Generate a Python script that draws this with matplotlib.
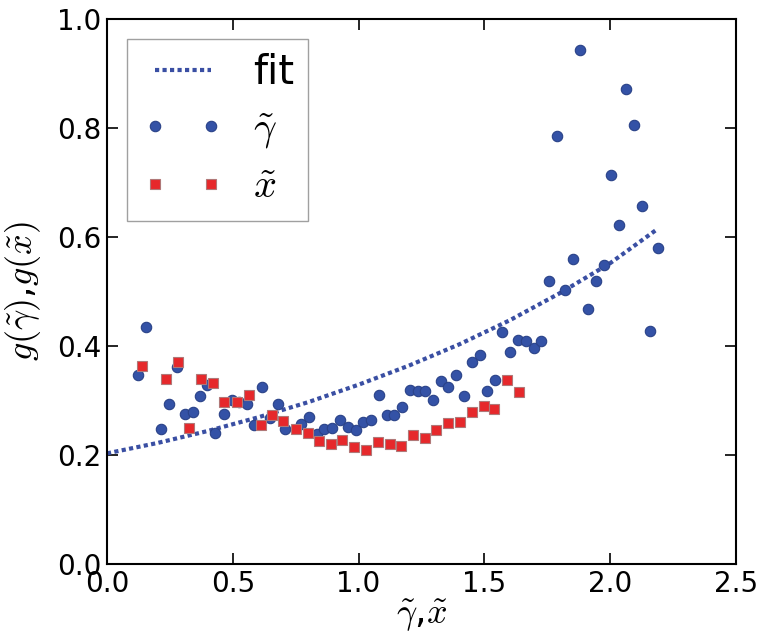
import matplotlib
matplotlib.use("Agg")
import matplotlib.pyplot as plt
from matplotlib.lines import Line2D
from matplotlib.legend_handler import HandlerLine2D

plt.rcParams['mathtext.fontset'] = 'cm'
plt.rcParams['font.family'] = 'DejaVu Sans'

fit_x = [0.0, 0.2, 0.4, 0.6, 0.8, 1.0, 1.2, 1.4, 1.6, 1.8, 2.0, 2.18]
fit_y = [0.203, 0.222, 0.244, 0.269, 0.297, 0.329, 0.364, 0.403, 0.447, 0.497, 0.552, 0.612]

gamma_x = [0.125, 0.155, 0.215, 0.246, 0.277, 0.310, 0.342, 0.371, 0.399, 0.431,
           0.464, 0.495, 0.526, 0.555, 0.584, 0.617, 0.648, 0.681, 0.709, 0.771,
           0.803, 0.833, 0.864, 0.895, 0.926, 0.959, 0.988, 1.019, 1.049, 1.081,
           1.111, 1.142, 1.172, 1.203, 1.235, 1.265, 1.296, 1.326, 1.356, 1.387,
           1.417, 1.449, 1.481, 1.511, 1.542, 1.571, 1.603, 1.635, 1.665, 1.696,
           1.726, 1.757, 1.789, 1.820, 1.851, 1.880, 1.910, 1.942, 1.974, 2.004,
           2.035, 2.064, 2.096, 2.127, 2.158, 2.190]
gamma_y = [0.346, 0.435, 0.247, 0.293, 0.361, 0.276, 0.278, 0.309, 0.329, 0.241,
           0.276, 0.301, 0.297, 0.293, 0.255, 0.325, 0.267, 0.294, 0.247, 0.257,
           0.270, 0.239, 0.247, 0.249, 0.265, 0.252, 0.245, 0.260, 0.265, 0.311,
           0.273, 0.273, 0.288, 0.319, 0.317, 0.317, 0.301, 0.336, 0.325, 0.347,
           0.308, 0.371, 0.384, 0.317, 0.337, 0.426, 0.389, 0.411, 0.409, 0.397,
           0.410, 0.520, 0.786, 0.502, 0.560, 0.944, 0.467, 0.519, 0.548, 0.713,
           0.622, 0.872, 0.805, 0.656, 0.428, 0.580]

xt_x = [0.140, 0.236, 0.281, 0.327, 0.375, 0.423, 0.467, 0.515, 0.563, 0.611,
        0.656, 0.701, 0.750, 0.797, 0.844, 0.889, 0.935, 0.981, 1.029, 1.077,
        1.125, 1.169, 1.215, 1.262, 1.309, 1.356, 1.404, 1.451, 1.497, 1.540,
        1.589, 1.638]
xt_y = [0.363, 0.340, 0.370, 0.250, 0.340, 0.332, 0.297, 0.298, 0.311, 0.255,
        0.273, 0.262, 0.247, 0.241, 0.225, 0.221, 0.227, 0.215, 0.209, 0.223,
        0.221, 0.216, 0.236, 0.231, 0.246, 0.258, 0.260, 0.278, 0.290, 0.284,
        0.338, 0.316]

x_ticks = [0.0, 0.5, 1.0, 1.5, 2.0, 2.5]
y_ticks = [0.0, 0.2, 0.4, 0.6, 0.8, 1.0]


class ShiftedHandler(HandlerLine2D):
    """Line handler whose artists start a little to the right of the handle box."""
    def __init__(self, shift=0.35, **kw):
        super().__init__(**kw)
        self._shift = shift

    def adjust_drawing_area(self, legend, orig_handle, xdescent, ydescent,
                            width, height, fontsize):
        xd, yd, w, h = super().adjust_drawing_area(
            legend, orig_handle, xdescent, ydescent, width, height, fontsize)
        off = self._shift * fontsize
        return xd - off, yd, w - off, h


fig = plt.figure(figsize=(7.66, 6.41), dpi=100)
ax = fig.add_axes([107/766, 77/641, 629/766, 545/641])

ax.plot(fit_x, fit_y, color='#3a4fa3', lw=3.0, linestyle=(0, (1, 0.8)),
        dash_capstyle='butt', label='fit')
ax.plot(gamma_x, gamma_y, 'o', ms=7.5, color='#3452a6', mec='#2a4288', mew=0.8,
        label=r'$\tilde{\gamma}$')
ax.plot(xt_x, xt_y, 's', ms=7, color='#e6282b', mec='#b07878', mew=0.8,
        label=r'$\tilde{x}$')

ax.set_xlim(0, 2.5)
ax.set_ylim(0, 1.0)
ax.set_xticks(x_ticks)
ax.set_yticks(y_ticks)
ax.set_xticklabels([f"{v:.1f}" for v in x_ticks])
ax.set_yticklabels([f"{v:.1f}" for v in y_ticks])
ax.tick_params(direction='in', length=8, width=1.2, labelsize=20, pad=4,
               top=True, right=True)
for s in ax.spines.values():
    s.set_linewidth(1.5)

ax.set_xlabel(r'$\tilde{\gamma}$,$\tilde{x}$', fontsize=26, labelpad=0)
ax.set_ylabel(r'$g(\tilde{\gamma})$,$g(\tilde{x})$', fontsize=26, labelpad=10)

leg = ax.legend(loc='upper left', bbox_to_anchor=(0.032, 0.963), borderaxespad=0,
                numpoints=2, fontsize=29, frameon=True, fancybox=False,
                handlelength=1.72, handletextpad=1.05, labelspacing=0.4,
                borderpad=0.35,
                handler_map={Line2D: ShiftedHandler(shift=0.35, marker_pad=0)})
leg.get_frame().set_edgecolor('#888888')
leg.get_frame().set_linewidth(1.0)

fig.savefig('out.png', dpi=100)
